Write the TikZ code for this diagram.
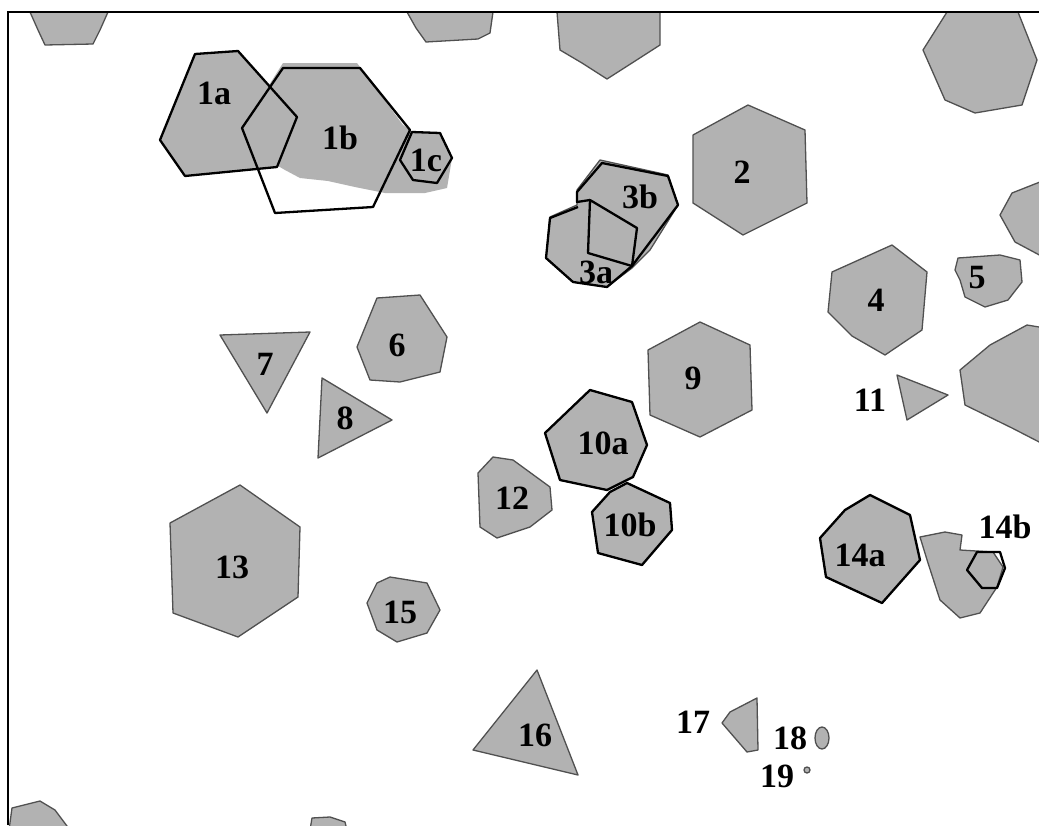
\documentclass[tikz,border=0pt]{standalone}
\usepackage{fontspec}
\setmainfont{Liberation Serif}
\definecolor{shapegray}{RGB}{178,178,178}
\definecolor{edgegray}{RGB}{80,80,80}
\begin{document}
\begin{tikzpicture}[x=1pt,y=-1pt,
  blob/.style={fill=shapegray,draw=edgegray,line width=1.3pt,line join=round},
  outl/.style={draw=black,line width=2.3pt,line join=round},
  lab/.style={font=\fontsize{34}{34}\selectfont\bfseries,inner sep=0pt}]
\useasboundingbox (0,0) rectangle (1039,825);
\fill[white] (0,0) rectangle (1039,825);
\begin{scope}
\clip (0,0) rectangle (1039,825);
% partial shapes at the edges
\draw[blob] (30,12) -- (108,12) -- (100,30) -- (93,44) -- (45,45) -- (38,30) -- cycle;
\draw[blob] (407,12) -- (493,12) -- (490,33) -- (478,39) -- (426,42) -- (416,28) -- cycle;
\draw[blob] (557,12) -- (660,12) -- (660,45) -- (632,63) -- (607,79) -- (582,63) -- (560,50) -- cycle;
\draw[blob] (947,12) -- (1018,12) -- (1037,60) -- (1022,105) -- (975,113) -- (945,100) -- (923,50) -- cycle;
\draw[blob] (1045,180) -- (1012,193) -- (1000,215) -- (1015,242) -- (1045,258) -- cycle;
\draw[blob] (1027,325) -- (1045,328) -- (1045,445) -- (1012,428) -- (965,405) -- (960,370) -- (990,345) -- cycle;
\draw[blob] (9,830) -- (12,808) -- (40,801) -- (55,810) -- (70,830) -- cycle;
\draw[blob] (310,830) -- (312,818) -- (330,817) -- (345,822) -- (347,830) -- cycle;
\end{scope}
% group 1
\draw[blob,draw=none] (283,63) -- (357,63) -- (403,125) -- (412,132) -- (440,133) -- (452,158) -- (447,188) -- (425,193) -- (385,193) -- (355,187) -- (328,181) -- (300,178) -- (285,170) -- (273,163) -- (242,128) -- cycle;
\draw[blob,draw=none] (195,54) -- (238,51) -- (297,117) -- (277,167) -- (185,176) -- (160,140) -- cycle;
\draw[outl] (195,54) -- (238,51) -- (297,117) -- (277,167) -- (185,176) -- (160,140) -- cycle;
\draw[outl] (283,68) -- (360,68) -- (410,130) -- (373,207) -- (275,213) -- (242,128) -- cycle;
\draw[outl] (412,132) -- (440,133) -- (452,158) -- (437,183) -- (413,180) -- (400,160) -- cycle;
% 2
\draw[blob] (748,105) -- (805,130) -- (807,203) -- (743,235) -- (693,203) -- (693,135) -- cycle;
% group 3
\draw[blob] (600,160) -- (668,175) -- (678,205) -- (650,250) -- (632,268) -- (607,287) -- (573,282) -- (546,258) -- (550,217) -- (577,205) -- (577,190) -- cycle;
\draw[outl] (590,200) -- (577,202) -- (577,192) -- (602,163) -- (668,176) -- (678,205) -- (632,266);
\draw[outl] (590,200) -- (637,228) -- (632,266) -- (588,253) -- cycle;
\draw[outl] (578,207) -- (550,218) -- (546,258) -- (573,282) -- (607,287) -- (632,266);
% 4, 5, 11
\draw[blob] (892,245) -- (927,272) -- (922,330) -- (885,355) -- (852,336) -- (828,312) -- (832,272) -- cycle;
\draw[blob] (958,258) -- (1000,255) -- (1020,260) -- (1022,282) -- (1008,300) -- (985,307) -- (965,297) -- (960,280) -- (955,270) -- cycle;
\draw[blob] (897,375) -- (948,395) -- (907,420) -- cycle;
% 6, 7, 8, 9
\draw[blob] (377,298) -- (420,295) -- (447,337) -- (440,372) -- (400,382) -- (370,380) -- (357,347) -- cycle;
\draw[blob] (220,335) -- (310,332) -- (267,413) -- cycle;
\draw[blob] (322,378) -- (392,420) -- (318,458) -- cycle;
\draw[blob] (700,322) -- (750,345) -- (752,410) -- (700,437) -- (650,415) -- (648,350) -- cycle;
% 10a, 10b, 12
\draw[blob] (610,492) -- (627,483) -- (670,503) -- (672,530) -- (642,565) -- (598,553) -- (592,512) -- cycle;
\draw[outl] (610,492) -- (627,483) -- (670,503) -- (672,530) -- (642,565) -- (598,553) -- (592,512) -- cycle;
\draw[blob] (590,390) -- (632,402) -- (647,445) -- (633,477) -- (607,490) -- (560,480) -- (545,433) -- cycle;
\draw[outl] (590,390) -- (632,402) -- (647,445) -- (633,477) -- (607,490) -- (560,480) -- (545,433) -- cycle;
\draw[blob] (493,457) -- (513,460) -- (550,487) -- (552,510) -- (530,527) -- (497,538) -- (480,527) -- (478,473) -- cycle;
% 13, 15, 16
\draw[blob] (240,485) -- (300,527) -- (298,597) -- (238,637) -- (173,613) -- (170,523) -- cycle;
\draw[blob] (390,577) -- (427,583) -- (440,610) -- (427,633) -- (397,642) -- (377,630) -- (367,603) -- (377,583) -- cycle;
\draw[blob] (537,670) -- (578,775) -- (473,750) -- cycle;
% 14
\draw[blob] (920,537) -- (945,532) -- (962,535) -- (960,550) -- (993,552) -- (1003,567) -- (997,587) -- (980,613) -- (960,618) -- (940,600) -- (928,563) -- cycle;
\draw[outl] (977,552) -- (1000,552) -- (1005,568) -- (997,588) -- (982,588) -- (967,570) -- cycle;
\draw[blob] (870,495) -- (910,515) -- (920,560) -- (882,603) -- (826,577) -- (820,538) -- (845,510) -- cycle;
\draw[outl] (870,495) -- (910,515) -- (920,560) -- (882,603) -- (826,577) -- (820,538) -- (845,510) -- cycle;
% 17, 18, 19
\draw[blob] (757,698) -- (758,750) -- (747,752) -- (722,723) -- (730,712) -- cycle;
\draw[blob] (822,738) ellipse [x radius=7, y radius=11];
\draw[blob] (807,770) circle [radius=3];
% frame
\draw[line width=2.5pt] (8,825) -- (8,12) -- (1039,12);
% labels
\node[lab] (l1a) at (214,93) {1a};
\node[lab] (l1b) at (340,138) {1b};
\node[lab] (l1c) at (426,160) {1c};
\node[lab] (l2) at (742,172) {2};
\node[lab] (l3b) at (640,197) {3b};
\node[lab] (l3a) at (596,272) {3a};
\node[lab] (l4) at (876,300) {4};
\node[lab] (l5) at (977,278) {5};
\node[lab] (l6) at (397,345) {6};
\node[lab] (l7) at (265,364) {7};
\node[lab] (l8) at (345,418) {8};
\node[lab] (l9) at (693,378) {9};
\node[lab] (l10a) at (603,443) {10a};
\node[lab] (l10b) at (630,525) {10b};
\node[lab] (l11) at (870,400) {11};
\node[lab] (l12) at (512,498) {12};
\node[lab] (l13) at (232,567) {13};
\node[lab] (l14a) at (860,555) {14a};
\node[lab] (l14b) at (1005,527) {14b};
\node[lab] (l15) at (400,612) {15};
\node[lab] (l16) at (535,735) {16};
\node[lab] (l17) at (693,722) {17};
\node[lab] (l18) at (790,738) {18};
\node[lab] (l19) at (777,776) {19};
\end{tikzpicture}
\end{document}
